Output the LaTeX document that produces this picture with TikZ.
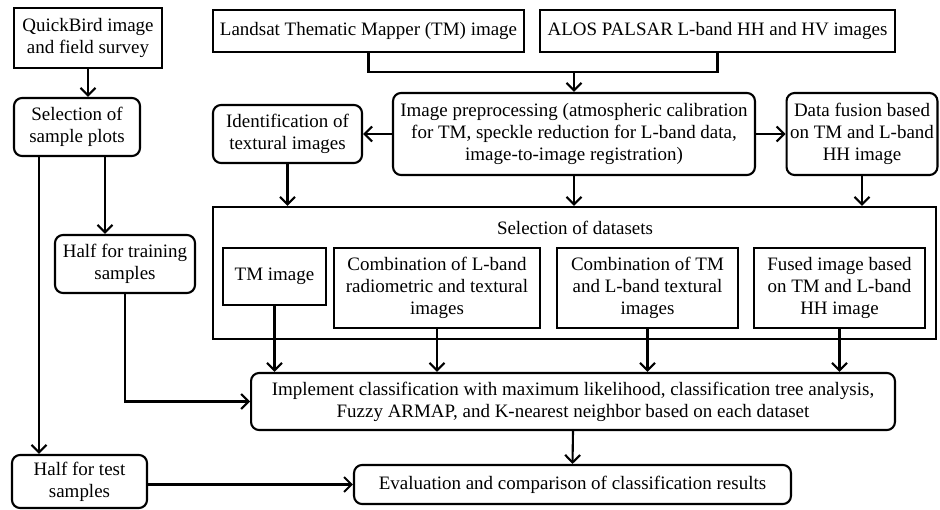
\documentclass[tikz,border=0pt]{standalone}
\usepackage{fontspec}
\setmainfont{Liberation Serif}
\usetikzlibrary{arrows.meta,positioning}

\begin{document}
\begin{tikzpicture}[x=0.02cm, y=-0.02cm, line width=1.2pt,
  every node/.style={font=\fontsize{10.8}{12.4}\selectfont, align=center, inner sep=2pt},
  box/.style={draw, minimum width=#1},
  rbox/.style={draw, rounded corners=1.6mm, minimum width=#1},
  arr/.style={-{Straight Barb[length=1.5mm,width=3mm]}}]
  \useasboundingbox (0,0) rectangle (940,510);
  % left column
  \node[box=2.96cm, minimum height=1.2cm]   (qb)    at (88,38)    {QuickBird image\\and field survey};
  \node[rbox=2.52cm, minimum height=1.16cm] (ssp)   at (77,127)   {Selection of\\sample plots};
  \node[rbox=2.8cm, minimum height=1.16cm]  (train) at (125,264)  {Half for training\\samples};
  \node[rbox=2.7cm, minimum height=1.06cm]  (test)  at (79.5,481.5) {Half for test\\samples};
  % input images and preprocessing
  \node[box=6.22cm, minimum height=0.84cm]  (tm)    at (368.5,31) {Landsat Thematic Mapper (TM) image};
  \node[box=7.1cm, minimum height=0.84cm]   (alos)  at (717.5,31) {ALOS PALSAR L-band HH and HV images};
  \node[rbox=7.24cm, minimum height=1.64cm] (prep)  at (574,134)  {Image preprocessing (atmospheric calibration\\for TM, speckle reduction for L-band data,\\image-to-image registration)};
  \node[rbox=2.98cm, minimum height=1.16cm] (ident) at (287.5,134) {Identification of\\textural images};
  \node[rbox=3.0cm, minimum height=1.64cm]  (fusion) at (862,134) {Data fusion based\\on TM and L-band\\HH image};
  % datasets
  \node[box=14.46cm, minimum height=2.64cm] (sets)  at (574.5,273) {};
  \node (setstitle) at (575,228) {Selection of datasets};
  \node[box=2.06cm, minimum height=1.14cm]  (tmimg)  at (274.5,276.5) {TM image};
  \node[box=4.12cm, minimum height=1.6cm]   (combL)  at (437,288)   {Combination of L-band\\radiometric and textural\\images};
  \node[box=3.62cm, minimum height=1.6cm]   (combTM) at (647.5,288) {Combination of TM\\and L-band textural\\images};
  \node[box=3.42cm, minimum height=1.6cm]   (fused)  at (839.5,288) {Fused image based\\on TM and L-band\\HH image};
  % classification and evaluation
  \node[rbox=12.88cm, minimum height=1.14cm] (impl) at (573,401.5) {Implement classification with maximum likelihood, classification tree analysis,\\Fuzzy ARMAP, and K-nearest neighbor based on each dataset};
  \node[rbox=8.74cm, minimum height=0.78cm]  (eval) at (572.5,484.5) {Evaluation and comparison of classification results};

  \draw[arr] (qb.south) -- (qb.south |- ssp.north);
  \draw[arr] ([xshift=5.6mm]ssp.south) -- ([xshift=5.6mm]ssp.south |- train.north);
  \draw[arr] ([xshift=-7.6mm]ssp.south) -- ([xshift=-7.6mm]ssp.south |- test.north);
  \draw[arr] (train.south) |- (impl.west);
  \draw[arr] (test.east |- eval.west) -- (eval.west);
  \coordinate (join) at (prep.north |- 0,72);
  \draw (tm.south) |- (join) -| (alos.south);
  \draw[arr] (join) -- (prep.north);
  \draw[arr] (prep.west) -- (ident.east);
  \draw[arr] (prep.east) -- (fusion.west);
  \draw[arr] (ident.south) -- (ident.south |- sets.north);
  \draw[arr] (prep.south) -- (sets.north -| prep.south);
  \draw[arr] (fusion.south) -- (fusion.south |- sets.north);
  \foreach \n in {tmimg,combL,combTM,fused}
    \draw[arr] (\n.south) -- (\n.south |- impl.north);
  \draw[arr] (impl.south) -- (eval.north);
\end{tikzpicture}
\end{document}
